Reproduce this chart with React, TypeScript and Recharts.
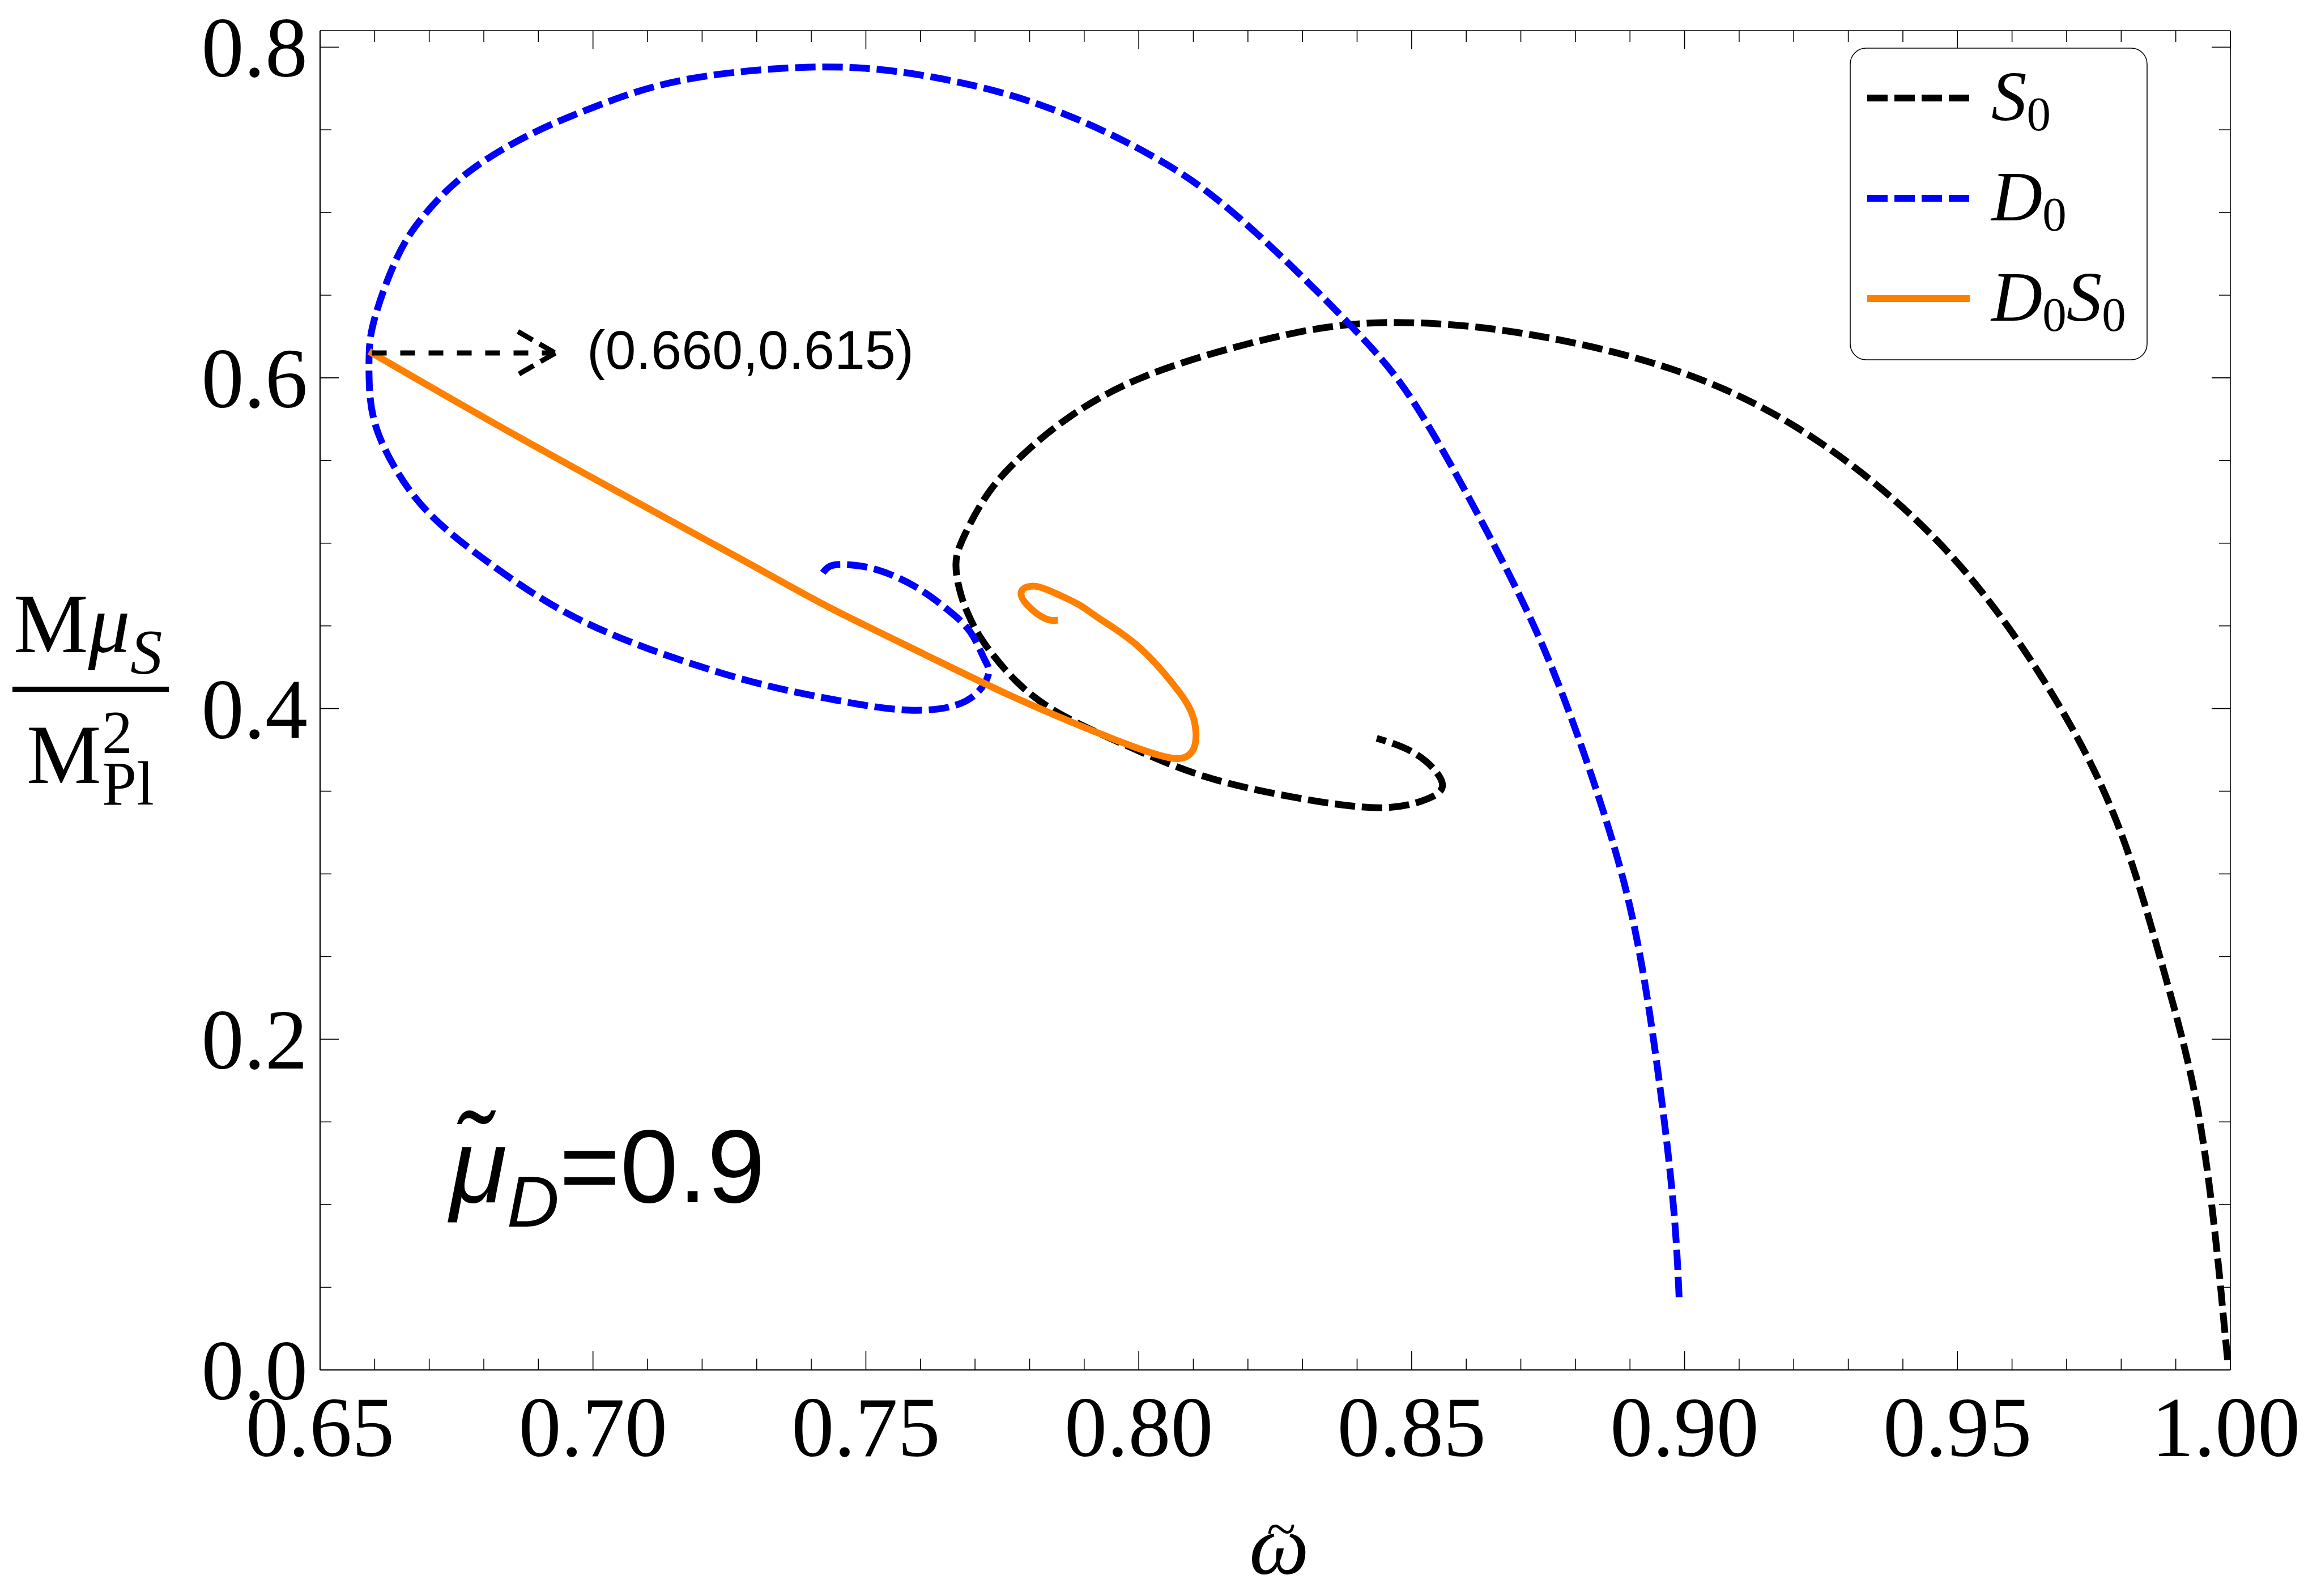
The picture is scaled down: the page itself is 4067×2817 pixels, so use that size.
import React from 'react';
import { LineChart, Line, XAxis, YAxis, Legend, ReferenceLine, ReferenceDot } from 'recharts';

// omega~ (x) and M mu_S / M_Pl^2 (y)
const s0Omega = [
  0.9995, 0.9985, 0.9976, 0.994, 0.9875, 0.979, 0.966, 0.947, 0.922, 0.897, 0.872, 0.853,
  0.838, 0.8217, 0.8012, 0.7876, 0.7796, 0.7728, 0.7681, 0.7665, 0.7675, 0.7691,
  0.7716, 0.7777, 0.786, 0.7975, 0.812, 0.829, 0.844, 0.8526, 0.8556, 0.851, 0.8436,
];
const s0Mass = [
  0.006, 0.04, 0.07, 0.158, 0.245, 0.333, 0.416, 0.499, 0.567, 0.606, 0.626, 0.633,
  0.632, 0.622, 0.601, 0.577, 0.556, 0.532, 0.505, 0.487, 0.468, 0.4545,
  0.44, 0.416, 0.396, 0.378, 0.359, 0.346, 0.34, 0.345, 0.355, 0.372, 0.382,
];

const d0Omega = [
  0.899, 0.8978, 0.8946, 0.89, 0.883, 0.874, 0.863, 0.851, 0.839, 0.819, 0.802, 0.782,
  0.762, 0.742, 0.718, 0.702, 0.689, 0.677, 0.669, 0.664, 0.66, 0.659, 0.659, 0.66,
  0.664, 0.6706, 0.6812, 0.6945, 0.7103, 0.7288, 0.7447, 0.758, 0.7683, 0.7724, 0.7717,
  0.7692, 0.7649, 0.7589, 0.752, 0.7468, 0.7434, 0.7415,
];
const d0Mass = [
  0.044, 0.105, 0.193, 0.28, 0.359, 0.438, 0.512, 0.582, 0.631, 0.695, 0.735, 0.765,
  0.782, 0.788, 0.781, 0.766, 0.748, 0.724, 0.698, 0.672, 0.636, 0.615, 0.598, 0.573,
  0.544, 0.516, 0.4875, 0.459, 0.436, 0.4165, 0.405, 0.399, 0.4045, 0.42, 0.43,
  0.446, 0.46, 0.474, 0.484, 0.487, 0.486, 0.479,
];

const d0s0Omega = [
  0.659, 0.6892, 0.7262, 0.7434, 0.7606, 0.7777, 0.795, 0.8035, 0.8079, 0.8103, 0.81,
  0.807, 0.8001, 0.7932, 0.7892, 0.7852, 0.781, 0.7785, 0.7796, 0.7828, 0.7852,
];
const d0s0Mass = [
  0.616, 0.559, 0.492, 0.461, 0.433, 0.406, 0.382, 0.372, 0.37, 0.378, 0.3945,
  0.4117, 0.437, 0.4535, 0.4625, 0.469, 0.474, 0.4707, 0.4625, 0.4545, 0.4535,
];

const xMajorTicks = [0.65, 0.7, 0.75, 0.8, 0.85, 0.9, 0.95, 1.0];
const xAllTicks = [
  0.65, 0.66, 0.67, 0.68, 0.69, 0.7, 0.71, 0.72, 0.73, 0.74, 0.75, 0.76, 0.77, 0.78, 0.79,
  0.8, 0.81, 0.82, 0.83, 0.84, 0.85, 0.86, 0.87, 0.88, 0.89, 0.9, 0.91, 0.92, 0.93, 0.94,
  0.95, 0.96, 0.97, 0.98, 0.99, 1.0,
];
const yMajorTicks = [0, 0.2, 0.4, 0.6, 0.8];
const yAllTicks = [
  0, 0.05, 0.1, 0.15, 0.2, 0.25, 0.3, 0.35, 0.4, 0.45, 0.5, 0.55, 0.6, 0.65, 0.7, 0.75, 0.8,
];

const toPoints = (xs: number[], ys: number[]) => xs.map((x, i) => ({ x, y: ys[i] }));
const s0Data = toPoints(s0Omega, s0Mass);
const d0Data = toPoints(d0Omega, d0Mass);
const d0s0Data = toPoints(d0s0Omega, d0s0Mass);

const W = 4051;
const H = 2801;
const serif = '"Liberation Serif", "Times New Roman", serif';
const sans = '"Liberation Sans", Arial, sans-serif';
const DASH = '36 12';

const isMajor = (v: number, majors: number[]) => majors.some((m) => Math.abs(m - v) < 1e-6);

function BottomTick(props: any) {
  const { x, y, payload } = props;
  const major = isMajor(payload.value, xMajorTicks);
  const last = Math.abs(payload.value - 1) < 1e-6;
  return (
    <g>
      <line x1={x} y1={y} x2={x} y2={y - (major ? 33 : 20)} stroke="#000" strokeWidth={1.6} />
      {major && (
        <text x={x + (last ? -8 : 0)} y={y + 152} textAnchor="middle" fontFamily={serif} fontSize={150} fill="#000">
          {payload.value.toFixed(2)}
        </text>
      )}
    </g>
  );
}

function TopTick(props: any) {
  const { x, y, payload } = props;
  const major = isMajor(payload.value, xMajorTicks);
  return <line x1={x} y1={y} x2={x} y2={y + (major ? 33 : 20)} stroke="#000" strokeWidth={1.6} />;
}

function LeftTick(props: any) {
  const { x, y, payload } = props;
  const major = isMajor(payload.value, yMajorTicks);
  return (
    <g>
      <line x1={x} y1={y} x2={x + (major ? 33 : 20)} y2={y} stroke="#000" strokeWidth={1.6} />
      {major && (
        <text x={x - 22} y={y + 52} textAnchor="end" fontFamily={serif} fontSize={150} fill="#000">
          {payload.value.toFixed(1)}
        </text>
      )}
    </g>
  );
}

function RightTick(props: any) {
  const { x, y, payload } = props;
  const major = isMajor(payload.value, yMajorTicks);
  return <line x1={x} y1={y} x2={x - (major ? 33 : 20)} y2={y} stroke="#000" strokeWidth={1.6} />;
}

const legendItems = [
  { parts: [['S', '0']], color: '#000000', dash: DASH },
  { parts: [['D', '0']], color: '#0000ff', dash: DASH },
  { parts: [['D', '0'], ['S', '0']], color: '#ff8000', dash: undefined },
];

function LegendBox() {
  return (
    <svg width={526} height={552} style={{ display: 'block' }}>
      <rect x={1} y={1} width={524} height={550} rx={28} ry={28} fill="#fff" stroke="#000" strokeWidth={1.6} />
      {legendItems.map((item, i) => {
        const cy = 89 + i * 177;
        return (
          <g key={i}>
            <line x1={31} y1={cy} x2={212} y2={cy} stroke={item.color} strokeWidth={12} strokeDasharray={item.dash} />
            <text x={250} y={cy + 39} fontFamily={serif} fontSize={125} fill="#000">
              {item.parts.map(([m, s], j) => (
                <React.Fragment key={j}>
                  <tspan fontStyle="italic" dy={j === 0 ? 0 : -18}>{m}</tspan>
                  <tspan fontSize={85} dy={18}>{s}</tspan>
                </React.Fragment>
              ))}
            </text>
          </g>
        );
      })}
    </svg>
  );
}

function ArrowShape(props: any) {
  const { x1, y1, x2, y2 } = props;
  return (
    <g stroke="#000" strokeWidth={9} fill="none">
      <line x1={x1} y1={y1} x2={x2} y2={y2} strokeDasharray="26 24" />
      <line x1={x2 - 66} y1={y2 - 38} x2={x2} y2={y2} strokeDasharray="30 14" />
      <line x1={x2} y1={y2} x2={x2 - 66} y2={y2 + 38} strokeDasharray="30 14" />
    </g>
  );
}

function PointLabel(props: any) {
  const { cx, cy } = props;
  return (
    <text x={cx} y={cy} fontFamily={sans} fontSize={97} fill="#000">
      (0.660,0.615)
    </text>
  );
}

export default function App() {
  return (
    <div style={{ position: 'relative', width: W, height: H }}>
      <LineChart width={W} height={H} margin={{ top: 45, right: 121, bottom: 390, left: 556 }}>
        <XAxis
          xAxisId="b"
          dataKey="x"
          type="number"
          orientation="bottom"
          domain={[0.65, 1.0]}
          ticks={xAllTicks}
          interval={0}
          allowDataOverflow
          height={1}
          tickSize={0}
          tickMargin={0}
          tickLine={false}
          axisLine={{ stroke: '#000', strokeWidth: 2.2 }}
          tick={BottomTick}
        />
        <XAxis
          xAxisId="t"
          dataKey="x"
          type="number"
          orientation="top"
          domain={[0.65, 1.0]}
          ticks={xAllTicks}
          interval={0}
          allowDataOverflow
          height={1}
          tickSize={0}
          tickMargin={0}
          tickLine={false}
          axisLine={{ stroke: '#000', strokeWidth: 1.6 }}
          tick={TopTick}
        />
        <YAxis
          yAxisId="l"
          type="number"
          orientation="left"
          domain={[0, 0.81]}
          ticks={yAllTicks}
          interval={0}
          allowDataOverflow
          width={1}
          tickSize={0}
          tickMargin={0}
          tickLine={false}
          axisLine={{ stroke: '#000', strokeWidth: 2.2 }}
          tick={LeftTick}
        />
        <YAxis
          yAxisId="r"
          type="number"
          orientation="right"
          domain={[0, 0.81]}
          ticks={yAllTicks}
          interval={0}
          allowDataOverflow
          width={1}
          tickSize={0}
          tickMargin={0}
          tickLine={false}
          axisLine={{ stroke: '#000', strokeWidth: 1.6 }}
          tick={RightTick}
        />
        <Line
          xAxisId="b"
          yAxisId="l"
          data={s0Data}
          dataKey="y"
          name="S0"
          type="natural"
          stroke="#000000"
          strokeWidth={12}
          strokeDasharray={DASH}
          dot={false}
          activeDot={false}
          isAnimationActive={false}
        />
        <Line
          xAxisId="b"
          yAxisId="l"
          data={d0Data}
          dataKey="y"
          name="D0"
          type="natural"
          stroke="#0000ff"
          strokeWidth={12}
          strokeDasharray={DASH}
          dot={false}
          activeDot={false}
          isAnimationActive={false}
        />
        <Line
          xAxisId="b"
          yAxisId="l"
          data={d0s0Data}
          dataKey="y"
          name="D0S0"
          type="natural"
          stroke="#ff8000"
          strokeWidth={12}
          dot={false}
          activeDot={false}
          isAnimationActive={false}
        />
        <ReferenceLine
          xAxisId="b"
          yAxisId="l"
          segment={[{ x: 0.6595, y: 0.615 }, { x: 0.6931, y: 0.615 }]}
          shape={ArrowShape}
        />
        <ReferenceDot xAxisId="b" yAxisId="l" x={0.6989} y={0.6055} r={0} shape={PointLabel} />
        <Legend
          layout="vertical"
          align="center"
          verticalAlign="middle"
          content={() => <LegendBox />}
          wrapperStyle={{ left: 3257, top: 76, width: 526, height: 552 }}
        />
      </LineChart>
      <svg width={W} height={H} style={{ position: 'absolute', left: 0, top: 0, pointerEvents: 'none' }}>
        <text x={16} y={1143} fontFamily={serif} fontSize={148} fill="#000">
          <tspan>M</tspan>
          <tspan fontStyle="italic">μ</tspan>
          <tspan fontStyle="italic" fontSize={113} dy={38}>S</tspan>
        </text>
        <rect x={14} y={1204} width={276} height={9} fill="#000" />
        <text x={39} y={1374} fontFamily={serif} fontSize={148} fill="#000">
          <tspan>M</tspan>
          <tspan x={172} dy={-53} fontSize={108}>2</tspan>
          <tspan x={172} dy={91} fontSize={110}>Pl</tspan>
        </text>
        <text x={2197} y={2770} fontFamily={serif} fontSize={150} fill="#000">
          <tspan fontStyle="italic">ω</tspan>
          <tspan x={2228} dy={-48} fontSize={95}>~</tspan>
        </text>
        <text x={786} y={2114} fontFamily={sans} fontSize={184} fill="#000">
          <tspan fontStyle="italic">μ̃</tspan>
          <tspan fontStyle="italic" fontSize={128} dy={43}>D</tspan>
          <tspan dy={-43}>=0.9</tspan>
        </text>
      </svg>
    </div>
  );
}
